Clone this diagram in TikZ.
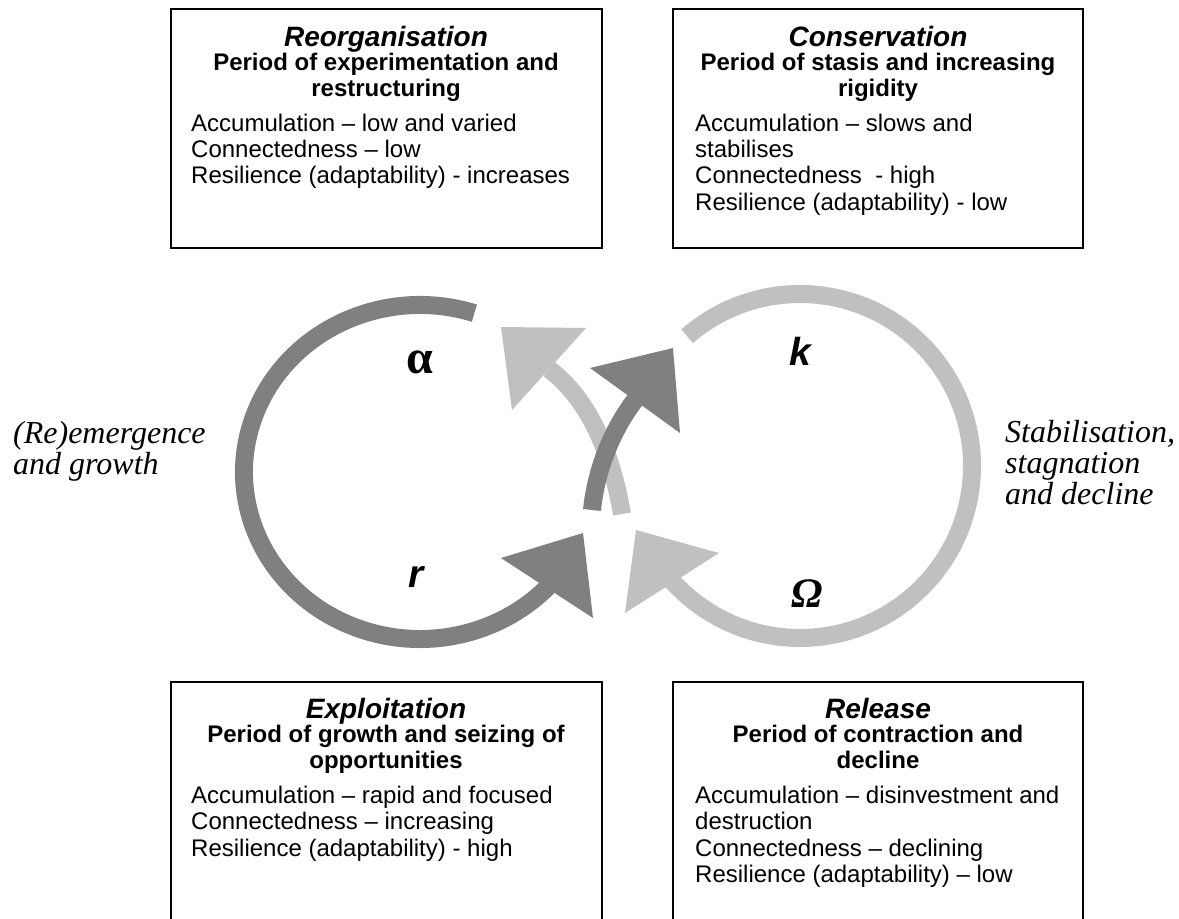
\documentclass[tikz,border=0pt]{standalone}
\usepackage{fontspec}
\setmainfont{Liberation Sans}
\newfontfamily\timesfont{Liberation Serif}
\definecolor{arcdark}{RGB}{128,128,128}
\definecolor{arclight}{RGB}{192,192,192}
\tikzset{
  phasebox/.style={draw=black, line width=2pt},
  ptitle/.style={font=\fontsize{28}{30}\selectfont\bfseries\itshape, anchor=base, inner sep=0pt},
  psub/.style={font=\fontsize{24}{26}\selectfont\bfseries, anchor=base, inner sep=0pt},
  pbody/.style={font=\fontsize{24}{26}\selectfont, anchor=base west, inner sep=0pt},
  sidetext/.style={font=\timesfont\fontsize{32}{34}\selectfont\itshape, anchor=base west, inner sep=0pt},
  greek/.style={anchor=base, inner sep=0pt},
  darkloop/.style={draw=arcdark, line width=18pt},
  lightloop/.style={draw=arclight, line width=18pt},
}
\begin{document}
\begin{tikzpicture}[x=1pt,y=-1pt]
\useasboundingbox (0,0) rectangle (1179,919);
\clip (0,0) rectangle (1179,919);
\fill[white] (0,0) rectangle (1179,919);

% ---------- boxes ----------
\draw[phasebox] (171,9) rectangle (602,248);
\draw[phasebox] (673,9) rectangle (1083,248);
\draw[phasebox] (171,930) |- (602,682) -- (602,930);
\draw[phasebox] (673,930) |- (1083,682) -- (1083,930);

% Reorganisation
\node[ptitle] (reoT) at (386,46) {Reorganisation};
\node[psub] (reoS1) at (386,70) {Period of experimentation and};
\node[psub] (reoS2) at (386,96) {restructuring};
\node[pbody] (reoB1) at (191,131) {Accumulation – low and varied};
\node[pbody] (reoB2) at (191,157) {Connectedness – low};
\node[pbody] (reoB3) at (191,183.5) {Resilience (adaptability) - increases};

% Conservation
\node[ptitle] (conT) at (878,46) {Conservation};
\node[psub] (conS1) at (878,70) {Period of stasis and increasing};
\node[psub] (conS2) at (878,96) {rigidity};
\node[pbody] (conB1) at (695,131) {Accumulation – slows and};
\node[pbody] (conB2) at (695,157) {stabilises};
\node[pbody] (conB3) at (695,183.5) {Connectedness\ \ - high};
\node[pbody] (conB4) at (695,210) {Resilience (adaptability) - low};

% Exploitation
\node[ptitle] (expT) at (386,718.5) {Exploitation};
\node[psub] (expS1) at (386,742.5) {Period of growth and seizing of};
\node[psub] (expS2) at (386,768.5) {opportunities};
\node[pbody] (expB1) at (191,803.5) {Accumulation – rapid and focused};
\node[pbody] (expB2) at (191,829.5) {Connectedness – increasing};
\node[pbody] (expB3) at (191,856) {Resilience (adaptability) - high};

% Release
\node[ptitle] (relT) at (878,718.5) {Release};
\node[psub] (relS1) at (878,742.5) {Period of contraction and};
\node[psub] (relS2) at (878,768.5) {decline};
\node[pbody] (relB1) at (695,803.5) {Accumulation – disinvestment and};
\node[pbody] (relB2) at (695,829.5) {destruction};
\node[pbody] (relB3) at (695,856) {Connectedness – declining};
\node[pbody] (relB4) at (695,882) {Resilience (adaptability) – low};

% side texts
\node[sidetext] (left1) at (13,443) {(Re)emergence};
\node[sidetext] (left2) at (13,474) {and growth};
\node[sidetext] (right1) at (1005,442) {Stabilisation,};
\node[sidetext] (right2) at (1005,473) {stagnation};
\node[sidetext] (right3) at (1005,504) {and decline};

% ---------- loops ----------
\coordinate (lc) at (420,472);
\coordinate (rc) at (800,466);
\draw[darkloop] (lc) ++(-72:176 and 167) arc[start angle=-72, end angle=-319, x radius=176, y radius=167];
\draw[lightloop] (rc) ++(-131:172 and 172) arc[start angle=-131, end angle=140, x radius=172, y radius=172];

% bottom arrowheads
\coordinate (db1) at (501,558); \coordinate (dbt) at (583,533); \coordinate (db2) at (593,618);
\fill[arcdark] (db1) -- (dbt) -- (db2) -- cycle;
\coordinate (lb1) at (719,553); \coordinate (lbt) at (636,530); \coordinate (lb2) at (625,613);
\fill[arclight] (lb1) -- (lbt) -- (lb2) -- cycle;

% central light arrow
\coordinate (ls) at (622,514); \coordinate (le) at (549,369);
\draw[lightloop] (ls) .. controls (612,455) and (590,400) .. (le);
\coordinate (lh1) at (586,328); \coordinate (lht) at (501,327); \coordinate (lh2) at (512,410);
\fill[arclight] (lh1) -- (lht) -- (lh2) -- cycle;

% central dark arrow
\coordinate (ds) at (592,510); \coordinate (de) at (635,400);
\draw[darkloop] (ds) .. controls (596,470) and (612,430) .. (de);
\coordinate (dh1) at (590,368); \coordinate (dht) at (673,348); \coordinate (dh2) at (680,433);
\fill[arcdark] (dh1) -- (dht) -- (dh2) -- cycle;

% ---------- phase letters ----------
\node[greek, font=\timesfont\fontsize{48}{50}\selectfont\bfseries] (alpha) at (420,373) {α};
\node[greek, font=\fontsize{39}{40}\selectfont\bfseries\itshape] (kay) at (800,365) {k};
\node[greek, font=\fontsize{39}{40}\selectfont\bfseries\itshape] (arr) at (416,587) {r};
\node[greek, font=\timesfont\fontsize{42}{44}\selectfont\bfseries\itshape] (omega) at (807,607) {Ω};
\end{tikzpicture}
\end{document}
